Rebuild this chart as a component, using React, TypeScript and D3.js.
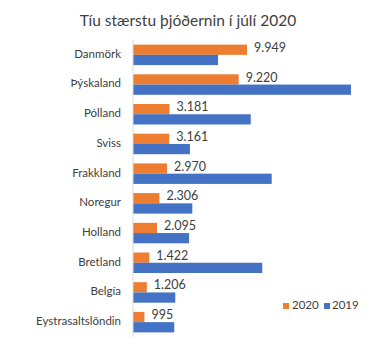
import React from 'react';
import * as d3 from 'd3';

const countries = [
    'Danmörk', 'Þýskaland', 'Pólland', 'Sviss', 'Frakkland',
    'Noregur', 'Holland', 'Bretland', 'Belgía', 'Eystrasaltslöndin'
];
const values2020 = [9949, 9220, 3181, 3161, 2970, 2306, 2095, 1422, 1206, 995];
const values2019 = [7420, 19020, 10270, 4970, 12100, 5175, 4890, 11280, 3690, 3600];
const seriesNames = ['2020', '2019'];

const width = 390;
const height = 361;
const margin = {top: 40, right: 38, bottom: 24, left: 133};
const colors = {'2020': '#ED7D31', '2019': '#4472C4'};
const font = 'Lato, "Open Sans", "Liberation Sans", sans-serif';

const fmt = (v: number) => d3.format(',')(v).replace(/,/g, '.');

const App: React.FC = () => {
    const innerH = height - margin.top - margin.bottom;

    const y = d3.scaleBand<string>()
        .domain(countries)
        .range([margin.top, margin.top + innerH])
        .paddingInner(0.31)
        .paddingOuter(0.155);

    const sub = d3.scaleBand<string>()
        .domain(seriesNames)
        .range([0, y.bandwidth()]);

    const x = d3.scaleLinear()
        .domain([0, 19020])
        .range([margin.left, 351]);

    return (
        <svg width={width} height={height}
             style={{position: 'absolute', left: 0, top: 0, background: '#fff', fontFamily: font}}>
            <text x={188} y={26} textAnchor="middle" fontSize={15.5} fill="#404040">
                Tíu stærstu þjóðernin í júlí 2020
            </text>

            {countries.map((c, i) => {
                const y0 = y(c)!;
                return (
                    <g key={c}>
                        <rect x={x(0)} y={y0 + sub('2020')!} width={x(values2020[i]) - x(0)}
                              height={sub.bandwidth()} fill={colors['2020']}/>
                        <rect x={x(0)} y={y0 + sub('2019')!} width={x(values2019[i]) - x(0)}
                              height={sub.bandwidth()} fill={colors['2019']}/>
                        <text x={x(values2020[i]) + 7} y={y0 + sub('2020')! + sub.bandwidth() / 2 - 1}
                              dominantBaseline="middle" fontSize={12.5} fill="#404040">
                            {fmt(values2020[i])}
                        </text>
                        <text x={121} y={y0 + y.bandwidth() / 2} textAnchor="end"
                              dominantBaseline="middle" fontSize={11.5} fill="#404040">
                            {c}
                        </text>
                    </g>
                );
            })}

            <line x1={x(0)} x2={x(0)} y1={margin.top} y2={margin.top + innerH}
                  stroke="#d9d9d9" strokeWidth={1}/>

            {/* legend */}
            <g fontSize={11.5} fill="#404040">
                <rect x={283} y={303} width={6} height={6} fill={colors['2020']}/>
                <text x={292} y={306.5} dominantBaseline="middle">{seriesNames[0]}</text>
                <rect x={324} y={303} width={6} height={6} fill={colors['2019']}/>
                <text x={332} y={306.5} dominantBaseline="middle">{seriesNames[1]}</text>
            </g>
        </svg>
    );
};

export default App;
